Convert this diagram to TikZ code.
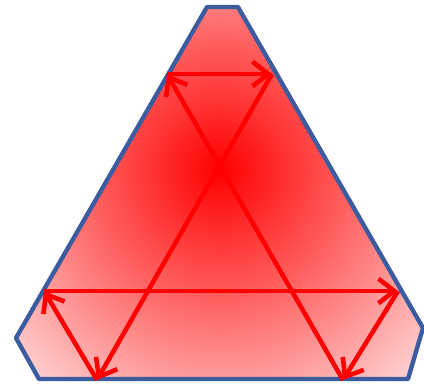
\documentclass[tikz,border=0pt]{standalone}
\usetikzlibrary{arrows.meta}
\definecolor{rim}{RGB}{60,92,160}
\tikzset{
  arr/.style={draw=red, line width=2.6pt, -{Straight Barb[length=9pt,width=14pt,line width=2.6pt]}},
  rimline/.style={draw=rim, line width=2.5pt, line join=round}
}
\begin{document}
\begin{tikzpicture}[x=0.02cm,y=-0.02cm]
        \useasboundingbox (0,0) rectangle (424,387);
        \coordinate (P1) at (207,7);
        \coordinate (P2) at (238,7);
        \coordinate (P3) at (423,328);
        \coordinate (P4) at (408,379);
        \coordinate (P5) at (39,379);
        \coordinate (P6) at (16,338);
        \begin{scope}
            \clip (P1)--(P2)--(P3)--(P4)--(P5)--(P6)--cycle;
            \fill[red!18] (0,0) rectangle (424,387);
            \shade[inner color=red, outer color=red!18] (220,170) circle (280);
        \end{scope}
        \draw[rimline] (P1)--(P2)--(P3)--(P4)--(P5)--(P6)--cycle;
        \coordinate (A) at (167,74);
        \coordinate (B) at (272,74);
        \coordinate (C) at (97,380);
        \coordinate (D) at (44,291);
        \coordinate (E) at (398,291);
        \coordinate (F) at (343,380);
        \draw[arr] (A)--(B);
        \draw[arr] (B)--(C);
        \draw[arr] (C)--(D);
        \draw[arr] (D)--(E);
        \draw[arr] (E)--(F);
        \draw[arr] (F)--(A);
    \end{tikzpicture}
\end{document}
